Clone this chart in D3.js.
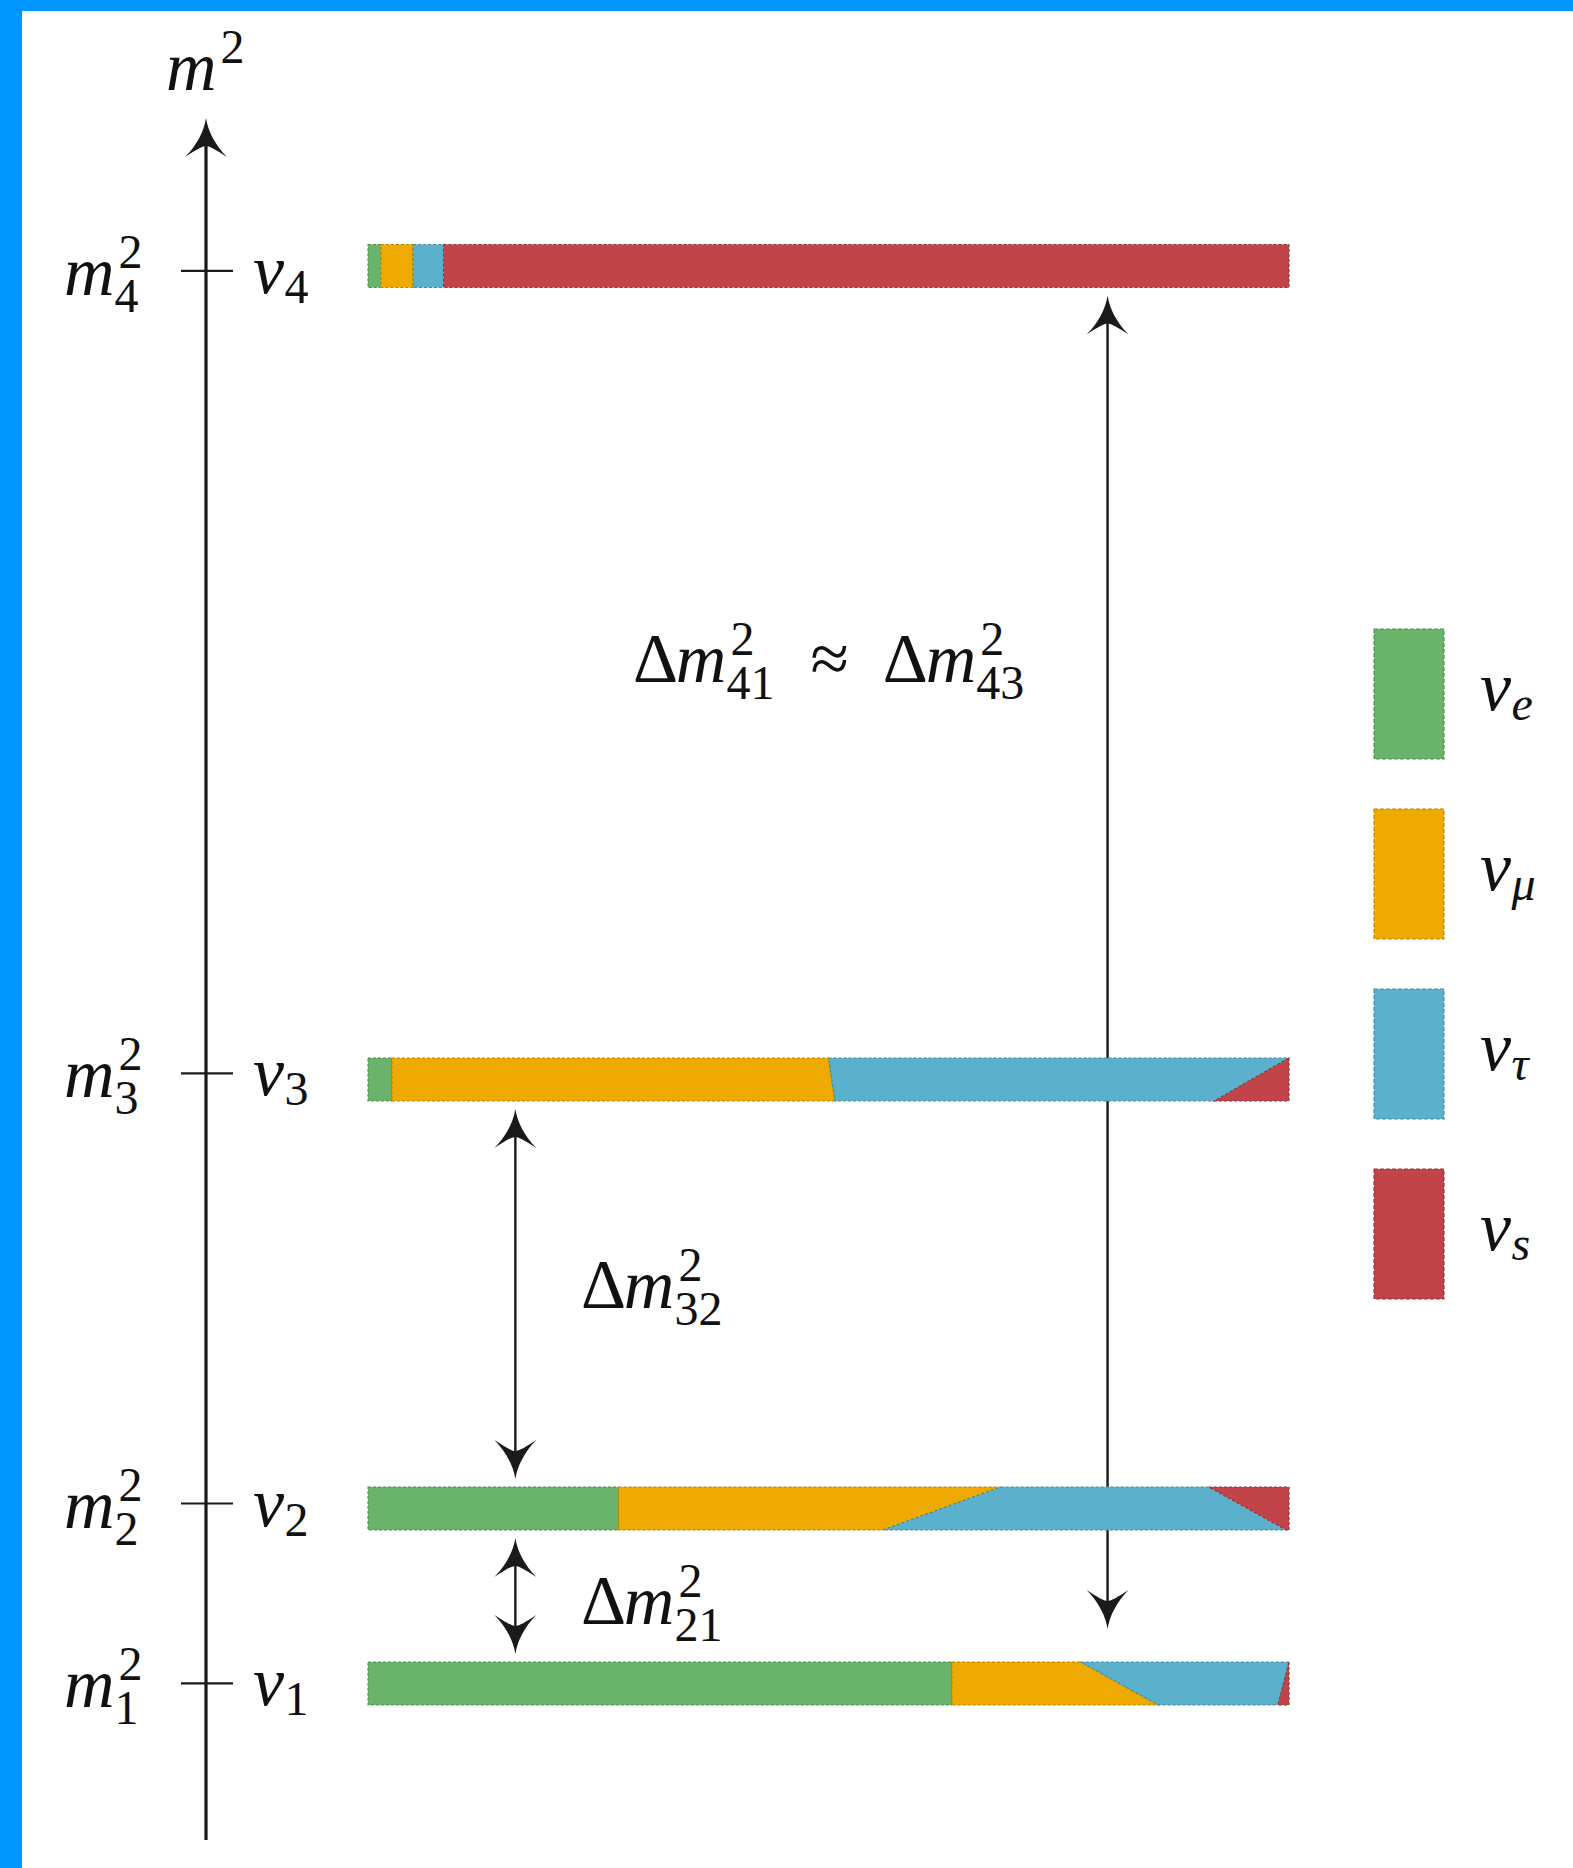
<!DOCTYPE html>
<html>
<head>
<meta charset="utf-8">
<script src="https://cdn.jsdelivr.net/npm/d3@7"></script>
<style>
  html, body { margin: 0; padding: 0; background: #fff; }
  svg { display: block; }
</style>
</head>
<body>
<script>
// ---------- data ----------
// mass eigenstates nu_1 .. nu_4 and their schematic m^2 levels (in units of dm^2_21)
const stateNames = ["1", "2", "3", "4"];
const massSquared = [0, 1, 3.39, 7.85];

// flavour content |U_ai|^2; the split varies across each bar, so it is given
// at the upper and at the lower edge of the bar
const flavourNames = ["e", "μ", "τ", "s"];
const flavourColours = ["#69b36a", "#eeaa00", "#5bb1cb", "#c1444a"];
const upperShares = [
  [0.634, 0.140, 0.226, 0.000],
  [0.272, 0.415, 0.226, 0.087],
  [0.026, 0.474, 0.500, 0.000],
  [0.014, 0.035, 0.033, 0.918]
];
const lowerShares = [
  [0.634, 0.224, 0.130, 0.012],
  [0.272, 0.287, 0.438, 0.003],
  [0.026, 0.481, 0.412, 0.081],
  [0.014, 0.035, 0.033, 0.918]
];

// mass splittings drawn as double arrows: upper state, lower state, subscripts
const splitUpper = [3, 2, 1];
const splitLower = [0, 1, 0];
const splitSubscripts = [["41", "43"], ["32"], ["21"]];

// ---------- layout ----------
const W = 1573, H = 1868;
const FONT = '"Liberation Serif"';
const svg = d3.select("body").append("svg").attr("width", W).attr("height", H);

svg.append("rect").attr("width", W).attr("height", H).attr("fill", "#fff");
svg.append("rect").attr("x", 0).attr("y", 0).attr("width", W).attr("height", 11).attr("fill", "#0096ff");
svg.append("rect").attr("x", 0).attr("y", 0).attr("width", 22).attr("height", H).attr("fill", "#0096ff");

const y = d3.scaleLinear().domain([-0.87, 8.7]).range([1840, 118]);
const x = d3.scaleLinear().domain([0, 1]).range([368, 1289]);
const axisX = 206;
const barH = 43;
const barShift = [0, 5, 6, -5];   // small vertical nudge of each bar about its level
const FS = 70, SS = 48;
const ink = "#1a1a1a";

// advance widths (em) of the glyphs used, Times-compatible metrics
const advance = { "m": 0.722, "ν": 0.45, "Δ": 0.612, "≈": 0.549 };
const widthOf = (s, size) => [...s].reduce((a, c) => a + (advance[c] ?? 0.5), 0) * size;

// filled arrow head pointing up, tip at origin
const headPath = "M0,0 C2,13 9,27 21,39 C10,32 4,28 0,28 C-4,28 -10,32 -21,39 C-9,27 -2,13 0,0 Z";
function arrowHead(g, hx, hy, up) {
  g.append("path").attr("d", headPath).attr("fill", ink)
    .attr("transform", `translate(${hx},${hy}) rotate(${up ? 0 : 180})`);
}

// text glyphs sit directly in the svg root
function glyph(px, py, size, italic, str) {
  svg.append("text").attr("x", px).attr("y", py)
    .style("font-family", FONT).attr("font-size", size)
    .attr("font-style", italic ? "italic" : "normal")
    .attr("fill", "#111").text(str);
}
// a sequence of math tokens: base glyph with optional super/subscript
function mathRun(x0, baseline, tokens) {
  let cx = x0;
  tokens.forEach(tk => {
    if (tk.space) { cx += tk.space; return; }
    glyph(cx, baseline, FS, tk.italic, tk.t);
    const w = widthOf(tk.t, FS);
    let extra = 0;
    const both = tk.sup && tk.sub;
    if (tk.sup) {
      glyph(cx + w + 4, baseline - 27, SS, false, tk.sup);
      extra = Math.max(extra, widthOf(tk.sup, SS) + 4);
    }
    if (tk.sub) {
      glyph(cx + w + (tk.italic ? 0 : 2), baseline + (both ? 17 : 10), SS, !!tk.subItalic, tk.sub);
      extra = Math.max(extra, widthOf(tk.sub, SS) + 2);
    }
    cx += w + extra;
  });
  return cx;
}

// ---------- vertical m^2 axis ----------
const axisG = svg.append("g");
axisG.append("line").attr("x1", axisX).attr("x2", axisX)
  .attr("y1", y.range()[0]).attr("y2", y.range()[1] + 22)
  .attr("stroke", ink).attr("stroke-width", 3.2);
arrowHead(axisG, axisX, y.range()[1], true);
massSquared.forEach(m2 => {
  const ty = y(m2);
  axisG.append("line").attr("x1", axisX - 25).attr("x2", axisX + 27)
    .attr("y1", ty).attr("y2", ty).attr("stroke", ink).attr("stroke-width", 2.2);
});

// ---------- splitting arrows (shafts behind the bars) ----------
const arrowG = svg.append("g");
const barTop = i => y(massSquared[i]) + barShift[i] - barH / 2;
const barBottom = i => y(massSquared[i]) + barShift[i] + barH / 2;
const arrowAt = [0.803, 0.16, 0.16];
const tipGap = 8;

splitUpper.forEach((hi, k) => {
  const lo = splitLower[k];
  const ax = x(arrowAt[k]);
  const yTop = barBottom(hi) + tipGap;
  // the long arrow stops short of the lowest bar
  const yBot = k === 0 ? barTop(lo) - 33 : barTop(lo) - tipGap;
  arrowG.append("line").attr("x1", ax).attr("x2", ax)
    .attr("y1", yTop + 22).attr("y2", yBot - 22)
    .attr("stroke", ink).attr("stroke-width", 2.4);
  arrowHead(arrowG, ax, yTop, true);
  arrowHead(arrowG, ax, yBot, false);
});

// ---------- flavour-composition bars ----------
const barG = svg.append("g");
stateNames.forEach((name, i) => {
  const up = [0, ...d3.cumsum(upperShares[i])];
  const dn = [0, ...d3.cumsum(lowerShares[i])];
  const t = barTop(i), b = barBottom(i);
  flavourNames.forEach((f, k) => {
    if (upperShares[i][k] <= 0 && lowerShares[i][k] <= 0) return;
    const pts = [
      [x(Math.min(up[k], 1)), t], [x(Math.min(up[k + 1], 1)), t],
      [x(Math.min(dn[k + 1], 1)), b], [x(Math.min(dn[k], 1)), b]
    ];
    const c = flavourColours[k];
    barG.append("path")
      .attr("d", d3.line()(pts) + "Z")
      .attr("fill", c)
      .attr("stroke", d3.color(c).darker(0.7))
      .attr("stroke-width", 1.1)
      .attr("stroke-dasharray", "3,2");
  });
});

// ---------- legend boxes ----------
const legendG = svg.append("g");
const ly = d3.scaleBand().domain(flavourNames).range([629, 1299]).paddingInner(0.278).paddingOuter(0);
flavourNames.forEach((f, k) => {
  const c = flavourColours[k];
  legendG.append("rect")
    .attr("x", 1374).attr("y", ly(f)).attr("width", 70).attr("height", ly.bandwidth())
    .attr("fill", c).attr("stroke", d3.color(c).darker(0.7))
    .attr("stroke-width", 1.1).attr("stroke-dasharray", "4,2");
});

// ---------- all labels ----------
mathRun(166, 90, [{ t: "m", italic: true, sup: "2" }]);
massSquared.forEach((m2, i) => {
  const ty = y(m2);
  mathRun(64, ty + 24, [{ t: "m", italic: true, sup: "2", sub: stateNames[i] }]);
  mathRun(253, ty + 22, [{ t: "ν", italic: true, sub: stateNames[i] }]);
});
const subs41 = splitSubscripts[0];
mathRun(633, 682, [
  { t: "Δ" }, { t: "m", italic: true, sup: "2", sub: subs41[0] },
  { space: 34 }, { t: "≈" }, { space: 34 },
  { t: "Δ" }, { t: "m", italic: true, sup: "2", sub: subs41[1] }
]);
mathRun(581, 1308, [{ t: "Δ" }, { t: "m", italic: true, sup: "2", sub: splitSubscripts[1][0] }]);
mathRun(581, 1624, [{ t: "Δ" }, { t: "m", italic: true, sup: "2", sub: splitSubscripts[2][0] }]);
flavourNames.forEach(f => {
  mathRun(1480, ly(f) + ly.bandwidth() / 2 + 16, [{ t: "ν", italic: true, sub: f, subItalic: true }]);
});
</script>
</body>
</html>
